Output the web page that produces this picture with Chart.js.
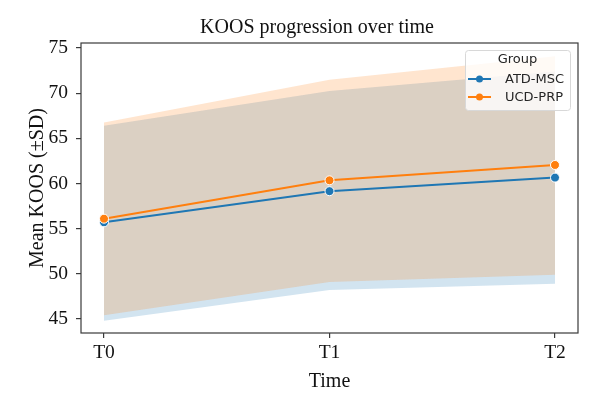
<!DOCTYPE html>
<html lang="en">
<head>
  <meta charset="UTF-8" />
  <title>KOOS progression over time</title>
  <script src="https://cdn.jsdelivr.net/npm/chart.js"></script>
  <style>
    html, body { margin: 0; padding: 0; background: #fff; }
    #wrap { width: 600px; height: 409px; }
  </style>
</head>
<body>
  <div id="wrap"><canvas id="grafico" width="600" height="409"></canvas></div>

  <script>
    // dados
    const timeLabels = ['T0', 'T1', 'T2'];
    const timePos = [0, 1, 2];
    const groups = ['ATD-MSC', 'UCD-PRP'];
    const atdMean = [55.7, 59.15, 60.65];
    const atdUpper = [66.4, 70.25, 72.4];
    const atdLower = [44.8, 48.2, 48.9];
    const ucdMean = [56.1, 60.35, 62.05];
    const ucdUpper = [66.75, 71.5, 74.1];
    const ucdLower = [45.4, 49.1, 49.9];
    const yTicks = [45, 50, 55, 60, 65, 70, 75];

    const azul = '#1f77b4';
    const laranja = '#ff7f0e';
    const serif = "'Liberation Serif', 'Times New Roman', serif";

    const pts = arr => arr.map((v, i) => ({ x: timePos[i], y: v }));

    const linha = (label, data, cor) => ({
      label, data: pts(data),
      borderColor: cor, backgroundColor: cor, borderWidth: 2,
      pointRadius: 4.5, pointBorderColor: '#fff', pointBorderWidth: 1,
      pointBackgroundColor: cor, fill: false, tension: 0
    });
    const faixa = (data, cor, fill) => ({
      label: '_band', data: pts(data),
      borderWidth: 0, borderColor: 'rgba(0,0,0,0)', pointRadius: 0,
      backgroundColor: cor, fill, tension: 0
    });

    // caixa em volta da área do gráfico + título um pouco à direita
    const moldura = {
      id: 'moldura',
      afterLayout(chart) {
        const t = chart.titleBlock;
        if (t) { t.left += 28; t.right += 28; }
      },
      afterDatasetsDraw(chart) {
        const { ctx, chartArea: a } = chart;
        ctx.save();
        ctx.strokeStyle = '#3a3a3a';
        ctx.lineWidth = 1.2;
        ctx.strokeRect(a.left, a.top, a.right - a.left, a.bottom - a.top);
        ctx.restore();
      }
    };

    // legenda no estilo seaborn
    const legenda = {
      id: 'legenda',
      afterDraw(chart) {
        const { ctx } = chart;
        const x = 465, y = 50, w = 105, h = 60;
        const cores = [azul, laranja];
        ctx.save();
        ctx.fillStyle = 'rgba(255,255,255,0.8)';
        ctx.strokeStyle = '#d8d8d8';
        ctx.lineWidth = 1;
        ctx.beginPath();
        ctx.roundRect(x + 0.5, y + 0.5, w, h, 3);
        ctx.fill();
        ctx.stroke();
        ctx.font = "13px 'DejaVu Sans', sans-serif";
        ctx.fillStyle = '#262626';
        ctx.textBaseline = 'middle';
        ctx.textAlign = 'center';
        ctx.fillText('Group', x + w / 2, y + 10);
        ctx.textAlign = 'left';
        groups.forEach((g, i) => {
          const cy = y + 29 + i * 18;
          ctx.strokeStyle = cores[i];
          ctx.lineWidth = 2;
          ctx.beginPath();
          ctx.moveTo(x + 3, cy);
          ctx.lineTo(x + 26, cy);
          ctx.stroke();
          ctx.fillStyle = cores[i];
          ctx.beginPath();
          ctx.arc(x + 14.5, cy, 3.5, 0, Math.PI * 2);
          ctx.fill();
          ctx.fillStyle = '#262626';
          ctx.fillText(g, x + 40, cy + 1);
        });
        ctx.restore();
      }
    };

    new Chart(document.getElementById('grafico'), {
      type: 'line',
      data: {
        datasets: [
          linha(groups[1], ucdMean, laranja),
          linha(groups[0], atdMean, azul),
          faixa(ucdUpper, 'rgba(255,127,14,0.2)', '+1'),
          faixa(ucdLower, 'rgba(255,127,14,0.2)', false),
          faixa(atdUpper, 'rgba(31,119,180,0.2)', '+1'),
          faixa(atdLower, 'rgba(31,119,180,0.2)', false)
        ]
      },
      options: {
        responsive: false,
        animation: false,
        layout: { padding: { left: 0, right: 22, top: 0, bottom: 0 } },
        plugins: {
          legend: { display: false },
          tooltip: { enabled: false },
          title: {
            display: true,
            text: 'KOOS progression over time',
            color: '#111',
            font: { family: serif, size: 20, weight: 'normal' },
            padding: { top: 16, bottom: 3 }
          }
        },
        scales: {
          x: {
            type: 'linear',
            min: -0.102, max: 2.102,
            afterBuildTicks: s => { s.ticks = timePos.map(v => ({ value: v })); },
            afterFit: s => { s.height = 76; },
            ticks: {
              callback: v => timeLabels[v],
              color: '#111', padding: 3,
              font: { family: serif, size: 19.5 },
              maxRotation: 0
            },
            grid: { drawOnChartArea: false, tickLength: 5, color: '#3a3a3a', lineWidth: 1.2 },
            border: { display: false },
            title: {
              display: true, text: 'Time', color: '#111',
              font: { family: serif, size: 20 },
              padding: { top: 0, bottom: 15 }
            }
          },
          y: {
            min: 43.44, max: 75.56,
            afterBuildTicks: s => { s.ticks = yTicks.map(v => ({ value: v })); },
            afterFit: s => { s.width = 81; },
            ticks: {
              color: '#111', padding: 8,
              font: { family: serif, size: 19.5 }
            },
            grid: { drawOnChartArea: false, tickLength: 5, color: '#3a3a3a', lineWidth: 1.2 },
            border: { display: false },
            title: {
              display: true, text: 'Mean KOOS (±SD)', color: '#111',
              font: { family: serif, size: 20 },
              padding: { top: 26, bottom: 0 }
            }
          }
        }
      },
      plugins: [moldura, legenda]
    });
  </script>
</body>
</html>
